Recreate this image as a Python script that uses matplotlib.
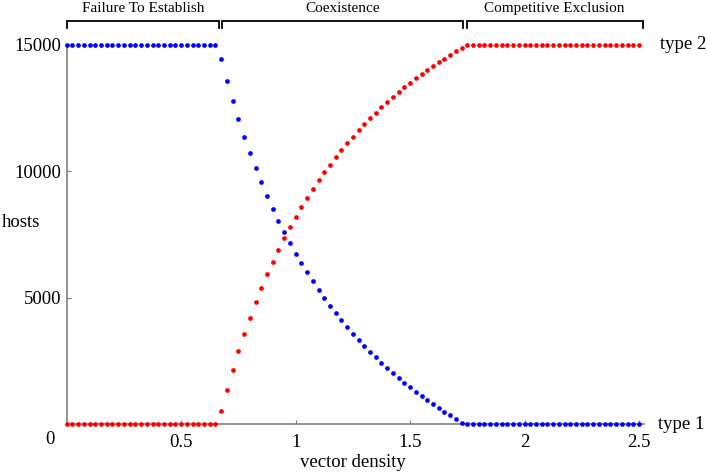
import numpy as np
import matplotlib
matplotlib.use("Agg")
import matplotlib.pyplot as plt

plt.rcParams['font.family'] = ['Liberation Serif', 'DejaVu Serif']

# ---- data ----
vector_density = np.round(np.arange(0, 2.5001, 0.025), 3)

type1_flat_before = [15000] * 27
type1_coexist = [14434, 13578, 12789, 12066, 11368, 10724, 10116, 9564, 9026, 8513,
                 8052, 7590, 7156, 6749, 6382, 5999, 5644, 5301, 4985, 4685,
                 4393, 4105, 3841, 3578, 3341, 3091, 2869, 2644, 2420, 2222,
                 2025, 1828, 1646, 1460, 1290, 1117, 959, 801, 643, 501,
                 355, 225, 67]
type1_flat_after = [0] * 31

type2_flat_before = [0] * 27
type2_coexist = [513, 1354, 2159, 2881, 3565, 4210, 4815, 5380, 5921, 6421,
                 6894, 7354, 7788, 8210, 8577, 8960, 9315, 9643, 9959, 10263,
                 10566, 10842, 11103, 11368, 11616, 11868, 12089, 12314, 12539, 12737,
                 12934, 13131, 13313, 13499, 13668, 13842, 14000, 14158, 14300, 14446,
                 14592, 14734, 14880]
type2_flat_after = [15000] * 31

type1_hosts = type1_flat_before + type1_coexist + type1_flat_after
type2_hosts = type2_flat_before + type2_coexist + type2_flat_after

x_ticks = [0.5, 1, 1.5, 2, 2.5]
x_tick_labels = ["0.5", "1", "1.5", "2", "2.5"]
y_ticks = [5000, 10000, 15000]
y_tick_labels = ["5000", "10000", "15000"]

regions = ["Failure To Establish", "Coexistence", "Competitive Exclusion"]
region_bounds = [(0.0, 0.665), (0.678, 1.731), (1.747, 2.516)]

# ---- figure ----
W, H = 707, 473
fig = plt.figure(figsize=(W / 100, H / 100), dpi=100)
ax = fig.add_axes([66.7 / W, 1 - 424.3 / H, (639 - 66.7) / W, (424.3 - 44.7) / H])
ax.set_xlim(0, 2.5)
ax.set_ylim(0, 15000)

ax.plot(vector_density, type1_hosts, 'o', color=(0, 0, 1), markersize=3.4,
        markeredgewidth=0, clip_on=False, zorder=3)
ax.plot(vector_density, type2_hosts, 'o', color=(1, 0, 0), markersize=3.4,
        markeredgewidth=0, clip_on=False, zorder=3)

for s in ['top', 'right']:
    ax.spines[s].set_visible(False)
for s in ['left', 'bottom']:
    ax.spines[s].set_color('#7f7f7f')
    ax.spines[s].set_linewidth(1.2)
ax.spines['bottom'].set_bounds(0, 2.52)

ax.set_xticks(x_ticks)
ax.set_xticklabels(x_tick_labels)
ax.set_yticks(y_ticks)
ax.set_yticklabels(y_tick_labels)
ax.tick_params(axis='both', direction='in', length=3, color='#7f7f7f',
               labelsize=13.5, labelcolor='black')
ax.tick_params(axis='x', pad=7)
ax.tick_params(axis='y', pad=4)

# origin label
fig.text(50 / W, 1 - 439 / H, "0", ha='center', va='center', fontsize=13.5)

# axis labels
fig.text(2 / W, 1 - 222 / H, "hosts", ha='left', va='center', fontsize=13.5)
fig.text(352.9 / W, 1 - 462 / H, "vector density", ha='center', va='center', fontsize=13.5)

# series labels
ax.text(2.591, 15000, "type 2", ha='left', va='center', fontsize=13.5, clip_on=False)
ax.text(2.582, 0, "type 1", ha='left', va='center', fontsize=13.5, clip_on=False)

# region brackets
ytop = 15000 + (44.7 - 21.5) * 15000 / 379.6
ytick = 15000 + (44.7 - 28.5) * 15000 / 379.6
ytext = 15000 + (44.7 - 8.5) * 15000 / 379.6
for name, (a, b) in zip(regions, region_bounds):
    ax.plot([a, a, b, b], [ytick, ytop, ytop, ytick], color='black', lw=1.3,
            clip_on=False, solid_joinstyle='miter')
    ax.text((a + b) / 2, ytext, name, ha='center', va='center', fontsize=11,
            clip_on=False)

fig.savefig("out.png", dpi=100)
